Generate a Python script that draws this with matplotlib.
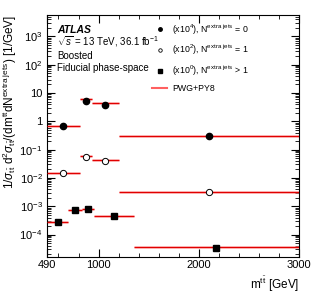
import matplotlib
matplotlib.use("Agg")
import matplotlib.pyplot as plt
from matplotlib.lines import Line2D
import numpy as np

plt.rcParams.update({
    "font.family": ["Liberation Sans", "DejaVu Sans"],
    "mathtext.fontset": "custom",
    "mathtext.rm": "Liberation Sans",
    "mathtext.it": "Liberation Sans:italic",
    "mathtext.bf": "Liberation Sans:bold",
    "font.size": 7,
})

# ── Data (before scaling) ───────────────────────────────────────────────────
edges_01 = [490, 810, 930, 1200, 3000]
edges_2 = [490, 700, 830, 950, 1350, 3000]

# N extra jets = 0, shown x1e4
data_n0 = [0.67e-4, 5.3e-4, 3.9e-4, 0.31e-4]
pred_n0 = [0.67e-4, 6.1e-4, 4.3e-4, 0.31e-4]
# N extra jets = 1, shown x1e2
data_n1 = [1.5e-4, 5.7e-4, 4.0e-4, 0.32e-4]
pred_n1 = [1.5e-4, 6.0e-4, 4.2e-4, 0.32e-4]
# N extra jets > 1, shown x1
data_n2 = [2.75e-4, 7.1e-4, 8.3e-4, 4.4e-4, 3.4e-5]
pred_n2 = [2.75e-4, 7.1e-4, 7.9e-4, 4.4e-4, 3.6e-5]

scales = [1e4, 1e2, 1.0]

# ── Figure ─────────────────────────────────────────────────────────────────
fig = plt.figure(figsize=(3.16, 3.06), dpi=100)
ax = fig.add_axes([0.150, 0.161, 0.797, 0.790])
ax.set_yscale("log")
ax.set_xlim(490, 3000)
ax.set_ylim(1.65e-5, 5.7e3)

sets = [
    (edges_01, data_n0, pred_n0, scales[0], dict(marker="o", mfc="black", mec="black", ms=4.5)),
    (edges_01, data_n1, pred_n1, scales[1], dict(marker="o", mfc="white", mec="black", ms=4.5, mew=0.7)),
    (edges_2, data_n2, pred_n2, scales[2], dict(marker="s", mfc="black", mec="black", ms=4.5)),
]

for edges, dat, pred, sc, style in sets:
    edges = np.array(edges)
    lo, hi = edges[:-1], edges[1:]
    centers = 0.5 * (lo + hi)
    p = np.array(pred) * sc
    ax.hlines(p, lo, hi, color="#ff9a9a", lw=2.0, alpha=0.6, zorder=2)
    ax.hlines(p, lo, hi, color="#e00000", lw=0.9, zorder=3)
    ax.plot(centers, np.array(dat) * sc, ls="none", zorder=5, **style)

# ticks in ROOT style
ax.set_xticks([490, 1000, 2000, 3000])
ax.set_xticklabels(["490", "1000", "2000", "3000"])
ax.set_xticks(np.arange(600, 3000, 200), minor=True)
ax.set_yticks([1e-4, 1e-3, 1e-2, 1e-1, 1, 10, 1e2, 1e3])
ax.set_yticklabels([r"10$^{-4}$", r"10$^{-3}$", r"10$^{-2}$", r"10$^{-1}$", "1", "10",
                    r"10$^{2}$", r"10$^{3}$"])
ax.tick_params(which="both", direction="in", top=True, right=True, labelsize=8)
ax.tick_params(which="major", length=6, width=0.8)
ax.tick_params(which="minor", length=3, width=0.6)
ax.tick_params(axis="x", pad=2)
for s in ax.spines.values():
    s.set_linewidth(0.8)

ax.set_xlabel(r"m$^{\mathrm{t\bar{t}}}$ [GeV]", fontsize=8.5, loc="right", labelpad=3)
ax.set_ylabel(r"1/$\sigma_{\mathrm{t\bar{t}}}$ d$^{2}\sigma_{\mathrm{t\bar{t}}}$/(dm$^{\mathrm{t\bar{t}}}$"
              r"dN$^{\mathrm{extra\ jets}}$) [1/GeV]", fontsize=8.5, loc="top", labelpad=0)

# labels
ax.text(0.04, 0.925, "ATLAS", transform=ax.transAxes, fontsize=7.5, fontweight="bold", style="italic")
ax.text(0.04, 0.872, r"$\sqrt{s}$ = 13 TeV, 36.1 fb$^{-1}$", transform=ax.transAxes, fontsize=7)
ax.text(0.04, 0.820, "Boosted", transform=ax.transAxes, fontsize=7)
ax.text(0.04, 0.768, "Fiducial phase-space", transform=ax.transAxes, fontsize=7)

handles = [
    Line2D([], [], ls="none", marker="o", mfc="black", mec="black", ms=2.5),
    Line2D([], [], ls="none", marker="o", mfc="white", mec="black", ms=2.5, mew=0.6),
    Line2D([], [], ls="none", marker="s", mfc="black", mec="black", ms=2.5),
    Line2D([], [], color="#ff6060", lw=1.5),
]
labels = [
    r"(x10$^{4}$), N$^{\mathrm{extra\ jets}}$ = 0",
    r"(x10$^{2}$), N$^{\mathrm{extra\ jets}}$ = 1",
    r"(x10$^{0}$), N$^{\mathrm{extra\ jets}}$ > 1",
    "PWG+PY8",
]
ax.legend(handles, labels, loc="upper left", bbox_to_anchor=(0.40, 0.985), frameon=False,
          fontsize=6.3, handlelength=1.8, labelspacing=0.7, handletextpad=0.5, borderaxespad=0)

fig.savefig("out.png", dpi=100)
